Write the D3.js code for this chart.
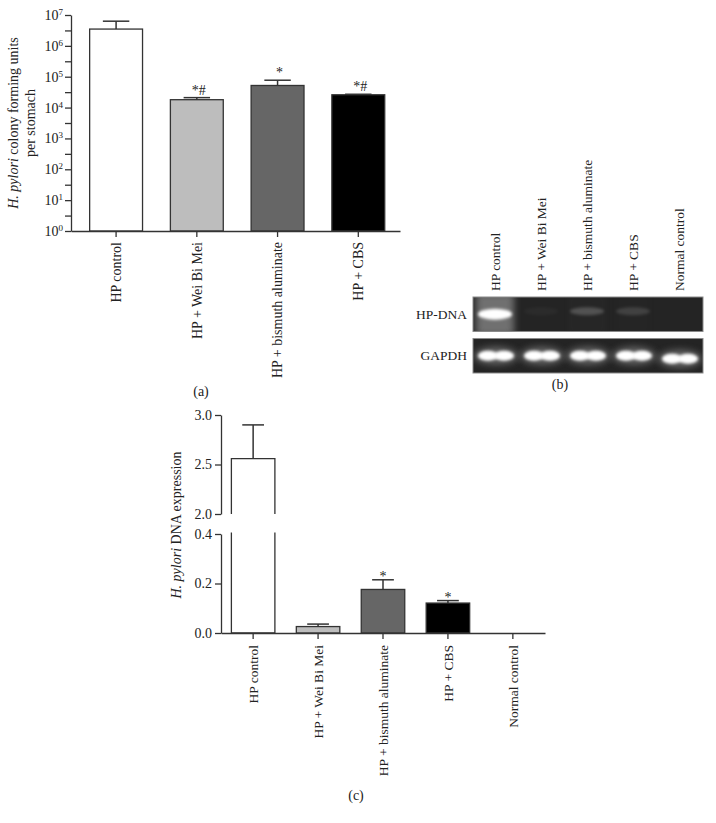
<!DOCTYPE html>
<html>
<head>
<meta charset="utf-8">
<script src="https://d3js.org/d3.v7.min.js"></script>
<style>
body { margin: 0; background: #fff; }
svg text { font-family: "Liberation Serif", "DejaVu Serif", serif; fill: #222; }
</style>
</head>
<body>
<svg id="fig" width="716" height="823"></svg>
<script>
// ---- panel (a): colony forming units per stomach (log scale)
var cfuGroups = ["HP control", "HP + Wei Bi Mei", "HP + bismuth aluminate", "HP + CBS"];
var cfuMean = [3.5e6, 1.8e4, 5.2e4, 2.6e4];
var cfuErr = [2.8e6, 0.3e4, 2.5e4, 0.1e4];
var cfuSig = ["", "*#", "*", "*#"];
var cfuTicks = [1, 10, 100, 1e3, 1e4, 1e5, 1e6, 1e7];

// ---- panel (b): gel lanes and band strength
var laneNames = ["HP control", "HP + Wei Bi Mei", "HP + bismuth aluminate", "HP + CBS", "Normal control"];
var gelRows = ["HP-DNA", "GAPDH"];
var hpDnaBand = [1.0, 0.03, 0.2, 0.13, 0.0];
var gapdhBand = [1.0, 1.0, 1.0, 1.0, 1.0];

// ---- panel (c): H. pylori DNA expression (broken axis)
var dnaGroups = ["HP control", "HP + Wei Bi Mei", "HP + bismuth aluminate", "HP + CBS", "Normal control"];
var dnaMean = [2.56, 0.026, 0.176, 0.121, 0];
var dnaErr = [0.34, 0.010, 0.039, 0.010, 0];
var dnaSig = ["", "", "*", "*", ""];
var lowTicks = [0, 0.2, 0.4];
var highTicks = [2.0, 2.5, 3.0];

var barFill = ["#ffffff", "#bdbdbd", "#666666", "#000000"];
var ink = "#333";

var svg = d3.select("#fig");

function styleAxis(g) {
  g.attr("font-family", "Liberation Serif, serif").attr("font-size", 14).attr("color", ink);
  g.selectAll("path, line").attr("stroke-width", 1.3);
}

// ================= panel (a)
var xA = d3.scaleBand().domain(cfuGroups).range([71, 400])
  .paddingInner(0.345).paddingOuter(0.21).align(0.55);
var yA = d3.scaleLog().domain([1, 1e7]).range([231, 15]);

var pa = svg.append("g");

pa.selectAll("rect.bar").data(cfuGroups).enter().append("rect")
  .attr("class", "bar")
  .attr("x", function(d) { return xA(d); })
  .attr("width", xA.bandwidth())
  .attr("y", function(d, i) { return yA(cfuMean[i]); })
  .attr("height", function(d, i) { return yA(1) - yA(cfuMean[i]); })
  .attr("fill", function(d, i) { return barFill[i]; })
  .attr("stroke", ink).attr("stroke-width", 1.3);

var errA = pa.selectAll("g.err").data(cfuGroups).enter().append("g");
errA.append("line")
  .attr("x1", function(d) { return xA(d) + xA.bandwidth() / 2; })
  .attr("x2", function(d) { return xA(d) + xA.bandwidth() / 2; })
  .attr("y1", function(d, i) { return yA(cfuMean[i]); })
  .attr("y2", function(d, i) { return yA(cfuMean[i] + cfuErr[i]); })
  .attr("stroke", ink).attr("stroke-width", 1.5);
errA.append("line")
  .attr("x1", function(d) { return xA(d) + xA.bandwidth() / 4; })
  .attr("x2", function(d) { return xA(d) + xA.bandwidth() * 3 / 4; })
  .attr("y1", function(d, i) { return yA(cfuMean[i] + cfuErr[i]); })
  .attr("y2", function(d, i) { return yA(cfuMean[i] + cfuErr[i]); })
  .attr("stroke", ink).attr("stroke-width", 1.5);
errA.append("text")
  .attr("x", function(d) { return xA(d) + xA.bandwidth() / 2 + 2; })
  .attr("y", function(d, i) { return yA(cfuMean[i] + cfuErr[i]) - 3; })
  .attr("text-anchor", "middle").attr("font-size", 14)
  .text(function(d, i) { return cfuSig[i]; });

// y axis with superscript labels and half-decade minor ticks
var yAxA = pa.append("g").attr("transform", "translate(71,0)")
  .call(d3.axisLeft(yA).tickValues(cfuTicks).tickFormat("").tickSize(6).tickSizeOuter(0));
styleAxis(yAxA);
yAxA.selectAll(".tick text").each(function(d) {
  var t = d3.select(this).attr("x", -8).attr("dy", "0.32em");
  t.append("tspan").text("10");
  t.append("tspan").attr("dy", "-0.55em").attr("font-size", 9).text(Math.round(Math.log10(d)));
});
var minorA = cfuTicks.slice(0, -1).map(function(v) { return v * Math.sqrt(10); });
var yMinA = pa.append("g").attr("transform", "translate(71,0)")
  .call(d3.axisLeft(yA).tickValues(minorA).tickFormat("").tickSize(6).tickSizeOuter(0));
styleAxis(yMinA);
yMinA.select(".domain").remove();

var xAxA = pa.append("g").attr("transform", "translate(0,231)")
  .call(d3.axisBottom(xA).tickSize(6).tickSizeOuter(0));
styleAxis(xAxA);
xAxA.selectAll(".tick text")
  .attr("transform", "rotate(-90)").attr("text-anchor", "end")
  .attr("x", -11).attr("y", 0).attr("dy", "0.35em");

var ttlA = pa.append("text").attr("text-anchor", "middle").attr("font-size", 14)
  .attr("transform", "translate(18,123) rotate(-90)");
ttlA.append("tspan").attr("font-style", "italic").text("H. pylori");
ttlA.append("tspan").text(" colony forming units");
pa.append("text").attr("text-anchor", "middle").attr("font-size", 14)
  .attr("transform", "translate(35,123) rotate(-90)").text("per stomach");
pa.append("text").attr("x", 201).attr("y", 396).attr("text-anchor", "middle")
  .attr("font-size", 14).text("(a)");

// ================= panel (b) gel
var lane = d3.scaleBand().domain(laneNames).range([473, 703]);
var row = d3.scaleBand().domain(gelRows).range([297, 373]).paddingInner(0.17);

var defs = svg.append("defs");
defs.append("filter").attr("id", "blur").attr("x", "-50%").attr("y", "-50%")
  .attr("width", "200%").attr("height", "200%")
  .append("feGaussianBlur").attr("stdDeviation", 1.8);
defs.append("filter").attr("id", "blurWide").attr("x", "-50%").attr("y", "-50%")
  .attr("width", "200%").attr("height", "200%")
  .append("feGaussianBlur").attr("stdDeviation", 3.5);

var pb = svg.append("g");
gelRows.forEach(function(r, ri) {
  defs.append("clipPath").attr("id", "clip" + ri).append("rect")
    .attr("x", lane.range()[0]).attr("y", row(r))
    .attr("width", lane.range()[1] - lane.range()[0]).attr("height", row.bandwidth());
  pb.append("rect")
    .attr("x", lane.range()[0]).attr("y", row(r))
    .attr("width", lane.range()[1] - lane.range()[0]).attr("height", row.bandwidth())
    .attr("fill", "#242424").attr("stroke", "#8a8a8a").attr("stroke-width", 1);
  var gg = pb.append("g").attr("clip-path", "url(#clip" + ri + ")");
  var cy = row(r) + row.bandwidth() / 2;
  if (r === "HP-DNA") {
    gg.selectAll("rect.smear").data(laneNames).enter().append("rect")
      .attr("x", function(d) { return lane(d) + 3; })
      .attr("width", lane.bandwidth() - 8)
      .attr("y", row(r) - 4).attr("height", row.bandwidth() + 8)
      .attr("fill", "#8a8a8a")
      .attr("opacity", function(d, i) { return hpDnaBand[i] * hpDnaBand[i] * 0.75; })
      .attr("filter", "url(#blurWide)");
    gg.selectAll("ellipse.band").data(laneNames).enter().append("ellipse")
      .attr("cx", function(d) { return lane(d) + lane.bandwidth() / 2 - 1; })
      .attr("cy", function(d, i) { return cy - (i === 0 ? 0 : 3); })
      .attr("rx", 17).attr("ry", function(d, i) { return i === 0 ? 5.5 : 4; })
      .attr("fill", "#fff")
      .attr("opacity", function(d, i) { return hpDnaBand[i]; })
      .attr("filter", "url(#blur)");
  } else {
    gg.selectAll("ellipse.glow").data(laneNames).enter().append("ellipse")
      .attr("cx", function(d) { return lane(d) + lane.bandwidth() / 2; })
      .attr("cy", function(d, i) { return cy + (i === 4 ? 3 : 0); })
      .attr("rx", 22).attr("ry", 9)
      .attr("fill", "#9a9a9a")
      .attr("opacity", function(d, i) { return gapdhBand[i] * 0.55; })
      .attr("filter", "url(#blurWide)");
    [-8, 8].forEach(function(off) {
      gg.selectAll("ellipse.lobe" + off).data(laneNames).enter().append("ellipse")
        .attr("cx", function(d) { return lane(d) + lane.bandwidth() / 2 + off; })
        .attr("cy", function(d, i) { return cy + (i === 4 ? 3 : 0); })
        .attr("rx", 10).attr("ry", 5)
        .attr("fill", "#fff")
        .attr("opacity", function(d, i) { return gapdhBand[i]; })
        .attr("filter", "url(#blur)");
    });
  }
  pb.append("text").attr("x", 467).attr("y", cy + 4.5).attr("text-anchor", "end")
    .attr("font-size", 13.5).text(r);
});
pb.selectAll("text.lane").data(laneNames).enter().append("text")
  .attr("transform", function(d) { return "translate(" + (lane(d) + lane.bandwidth() / 2 + 4) + ",291) rotate(-90)"; })
  .attr("font-size", 13.5).text(function(d) { return d; });
pb.append("text").attr("x", 560).attr("y", 389).attr("text-anchor", "middle")
  .attr("font-size", 14).text("(b)");

// ================= panel (c) broken axis
var xC = d3.scaleBand().domain(dnaGroups).range([221, 545]).paddingInner(0.33).paddingOuter(0.16);
var yLow = d3.scaleLinear().domain([0, 0.4]).range([633, 534]);
var yHigh = d3.scaleLinear().domain([2.0, 3.0]).range([514, 415]);
function yC(v) { return v <= 0.4 ? yLow(v) : yHigh(v); }

var pc = svg.append("g");
dnaGroups.forEach(function(g, i) {
  var x0 = xC(g), x1 = xC(g) + xC.bandwidth(), v = dnaMean[i];
  if (v <= 0) return;
  if (v <= 0.4) {
    pc.append("rect").attr("x", x0).attr("width", xC.bandwidth())
      .attr("y", yLow(v)).attr("height", yLow(0) - yLow(v))
      .attr("fill", barFill[i]).attr("stroke", ink).attr("stroke-width", 1.3);
  } else {
    var top = yLow(0.4) - 1.5;
    pc.append("rect").attr("x", x0).attr("width", xC.bandwidth())
      .attr("y", top).attr("height", yLow(0) - top).attr("fill", barFill[i]);
    pc.append("path").attr("d", "M" + x0 + "," + top + "V" + yLow(0) + "H" + x1 + "V" + top)
      .attr("fill", "none").attr("stroke", ink).attr("stroke-width", 1.3);
    pc.append("rect").attr("x", x0).attr("width", xC.bandwidth())
      .attr("y", yHigh(v)).attr("height", yHigh(2.0) - yHigh(v)).attr("fill", barFill[i]);
    pc.append("path").attr("d", "M" + x0 + "," + yHigh(2.0) + "V" + yHigh(v) + "H" + x1 + "V" + yHigh(2.0))
      .attr("fill", "none").attr("stroke", ink).attr("stroke-width", 1.3);
  }
  var cx = x0 + xC.bandwidth() / 2, yt = yC(v + dnaErr[i]);
  pc.append("line").attr("x1", cx).attr("x2", cx).attr("y1", yC(v)).attr("y2", yt)
    .attr("stroke", ink).attr("stroke-width", 1.5);
  pc.append("line").attr("x1", x0 + xC.bandwidth() / 4).attr("x2", x0 + xC.bandwidth() * 3 / 4)
    .attr("y1", yt).attr("y2", yt).attr("stroke", ink).attr("stroke-width", 1.5);
  pc.append("text").attr("x", cx).attr("y", yt + 1).attr("text-anchor", "middle")
    .attr("font-size", 14).text(dnaSig[i]);
});

var fmt = d3.format(".1f");
var yAxLow = pc.append("g").attr("transform", "translate(221,0)")
  .call(d3.axisLeft(yLow).tickValues(lowTicks).tickFormat(fmt).tickSize(6).tickSizeOuter(0));
styleAxis(yAxLow);
var yAxHigh = pc.append("g").attr("transform", "translate(221,0)")
  .call(d3.axisLeft(yHigh).tickValues(highTicks).tickFormat(fmt).tickSize(6).tickSizeOuter(0));
styleAxis(yAxHigh);
pc.selectAll(".tick text").attr("x", -9);

var xAxC = pc.append("g").attr("transform", "translate(0,633)")
  .call(d3.axisBottom(xC).tickSize(6).tickSizeOuter(0));
styleAxis(xAxC);
xAxC.selectAll(".tick text")
  .attr("transform", "rotate(-90)").attr("text-anchor", "end")
  .attr("x", -12).attr("y", 0).attr("dy", "0.35em").attr("font-size", 13.5);

var ttlC = pc.append("text").attr("text-anchor", "middle").attr("font-size", 14)
  .attr("transform", "translate(181,525) rotate(-90)");
ttlC.append("tspan").attr("font-style", "italic").text("H. pylori");
ttlC.append("tspan").text(" DNA expression");
pc.append("text").attr("x", 356).attr("y", 800).attr("text-anchor", "middle")
  .attr("font-size", 14).text("(c)");
</script>
</body>
</html>
